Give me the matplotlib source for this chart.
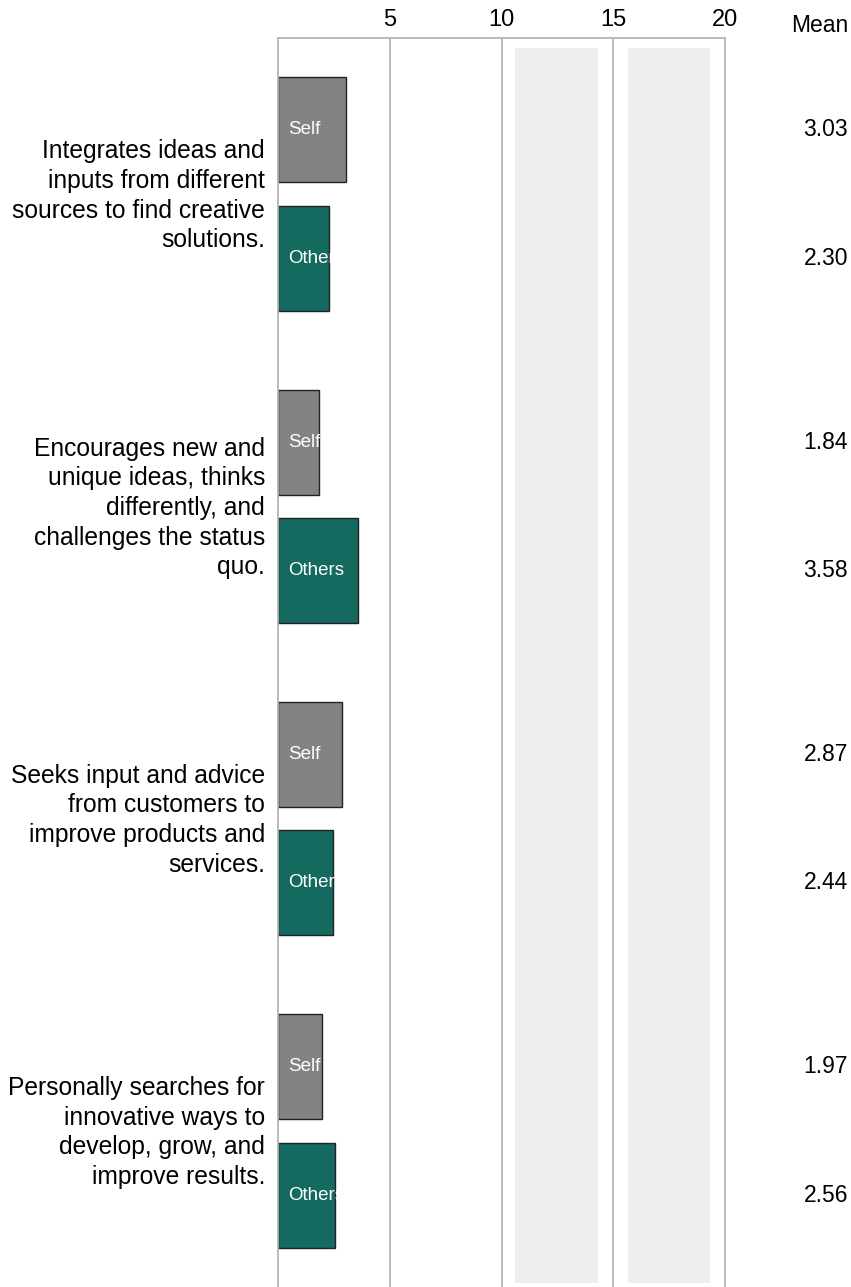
import numpy as np
import matplotlib.pyplot as plt
from matplotlib.patches import Rectangle
import matplotlib.transforms as mtransforms

plt.rcParams['font.family'] = ['Liberation Sans', 'DejaVu Sans']

# data
items = [
    "Integrates ideas and\ninputs from different\nsources to find creative\nsolutions.",
    "Encourages new and\nunique ideas, thinks\ndifferently, and\nchallenges the status\nquo.",
    "Seeks input and advice\nfrom customers to\nimprove products and\nservices.",
    "Personally searches for\ninnovative ways to\ndevelop, grow, and\nimprove results.",
]
self_mean = [3.03, 1.84, 2.87, 1.97]
others_mean = [2.30, 3.58, 2.44, 2.56]
ticks = [5, 10, 15, 20]
bands = [(10.6, 14.3), (15.65, 19.35)]

grid_c = '#b4b4b4'
self_c = '#838383'
others_c = '#146a5f'

fig = plt.figure(figsize=(8.51, 12.87), dpi=100)
ax = fig.add_axes([278/851, 0, (725-278)/851, 1 - 38/1287])

y = np.arange(len(items))
off = 0.206
h = 0.336

# shaded bands
for x0, x1 in bands:
    ax.add_patch(Rectangle((x0, -0.468), x1 - x0, 3.955, facecolor='#ededed',
                           edgecolor='none', zorder=0))

# vertical lines
for t in [5, 10, 15]:
    ax.axvline(t, color=grid_c, lw=1.3, zorder=1)

ax.barh(y - off, self_mean, height=h, color=self_c, edgecolor='#222222', lw=1, zorder=2)
ax.barh(y + off, others_mean, height=h, color=others_c, edgecolor='#222222', lw=1, zorder=2)

for i in range(len(items)):
    ax.text(0.45, y[i] - off, "Self", color='white', fontsize=13.5, ha='left', va='center', zorder=3)
    ax.text(0.45, y[i] + off, "Others", color='white', fontsize=13.5, ha='left', va='center', zorder=3)
    ax.text(-0.58, y[i] + 0.005, items[i], fontsize=17.7, ha='right', va='center',
            multialignment='right', linespacing=1.3)

# mean column
trans = mtransforms.blended_transform_factory(fig.transFigure, ax.transData)
for i in range(len(items)):
    ax.text(848/851, y[i] - off, f"{self_mean[i]:.2f}", transform=trans, ha='right',
            va='center', fontsize=16.5)
    ax.text(848/851, y[i] + off, f"{others_mean[i]:.2f}", transform=trans, ha='right',
            va='center', fontsize=16.5)
fig.text(848/851, 1 - 25/1287, "Mean", ha='right', va='center', fontsize=16.5)

ax.set_xlim(0, 20)
ax.set_ylim(3.5, -0.5)
ax.xaxis.tick_top()
ax.set_xticks(ticks)
ax.tick_params(axis='x', length=0, pad=5, labelsize=17)
ax.set_yticks([])
for s in ['left', 'right', 'top']:
    ax.spines[s].set_color(grid_c)
    ax.spines[s].set_linewidth(1.3)
ax.spines['bottom'].set_visible(False)

fig.savefig("out.png", dpi=100)
